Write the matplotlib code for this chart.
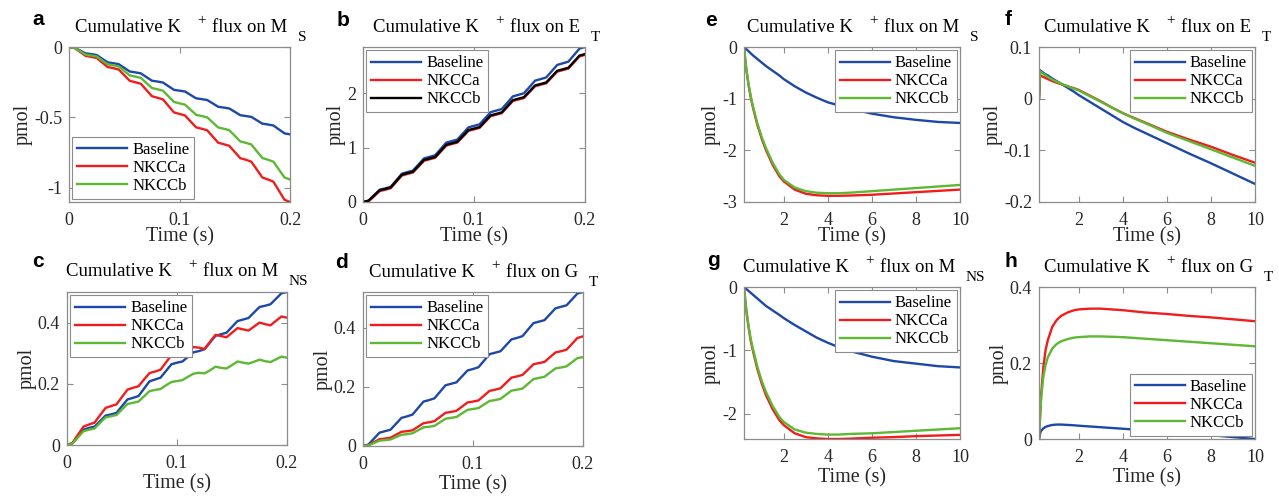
import numpy as np
import matplotlib.pyplot as plt
from matplotlib.transforms import IdentityTransform

plt.rcParams['font.family'] = ['Liberation Serif', 'DejaVu Serif']
plt.rcParams['axes.unicode_minus'] = False

# time grids
t_short = np.linspace(0, 0.2, 41)
t_long = [0.2, 0.25, 0.3, 0.4, 0.5, 0.6, 0.8, 1.0, 1.2, 1.5, 1.8, 2.0, 2.5, 3.0,
          3.5, 4.0, 4.5, 5, 6, 7, 8, 9, 10]

# a: K+ flux on M_S (0-0.2 s)
a_base = [0, -0.005, -0.025, -0.045, -0.05, -0.057, -0.083, -0.109, -0.115, -0.122, -0.148,
          -0.174, -0.18, -0.187, -0.213, -0.239, -0.245, -0.252, -0.278, -0.304, -0.31,
          -0.316, -0.34, -0.364, -0.37, -0.376, -0.4, -0.424, -0.43, -0.436, -0.46, -0.484,
          -0.49, -0.496, -0.52, -0.544, -0.55, -0.557, -0.585, -0.613, -0.62]
a_nkcca = [0, -0.007, -0.035, -0.063, -0.07, -0.078, -0.11, -0.142, -0.15, -0.16, -0.2,
           -0.24, -0.25, -0.261, -0.305, -0.349, -0.36, -0.372, -0.418, -0.464, -0.475,
           -0.486, -0.528, -0.57, -0.58, -0.591, -0.635, -0.679, -0.69, -0.701, -0.745,
           -0.789, -0.8, -0.814, -0.87, -0.926, -0.94, -0.956, -1.02, -1.084, -1.1]
a_nkccb = [0, -0.006, -0.03, -0.054, -0.06, -0.067, -0.095, -0.123, -0.13, -0.138, -0.17,
           -0.202, -0.21, -0.219, -0.255, -0.291, -0.3, -0.31, -0.35, -0.39, -0.4, -0.409,
           -0.445, -0.481, -0.49, -0.499, -0.535, -0.571, -0.58, -0.59, -0.63, -0.67, -0.68,
           -0.692, -0.74, -0.788, -0.8, -0.814, -0.87, -0.926, -0.94]

# b: K+ flux on E_T
b_base = [0, 0.025, 0.125, 0.225, 0.25, 0.28, 0.4, 0.52, 0.55, 0.578, 0.69, 0.802, 0.83,
          0.859, 0.975, 1.091, 1.12, 1.148, 1.26, 1.372, 1.4, 1.428, 1.54, 1.652, 1.68,
          1.709, 1.825, 1.941, 1.97, 1.999, 2.115, 2.231, 2.26, 2.289, 2.405, 2.521, 2.55,
          2.58, 2.7, 2.82, 2.85]
b_nkcca = [0, 0.01, 0.105, 0.2, 0.225, 0.254, 0.37, 0.486, 0.515, 0.542, 0.65, 0.758,
           0.785, 0.813, 0.925, 1.037, 1.065, 1.092, 1.2, 1.308, 1.335, 1.362, 1.47, 1.578,
           1.605, 1.633, 1.745, 1.857, 1.885, 1.912, 2.02, 2.128, 2.155, 2.182, 2.29, 2.398,
           2.425, 2.453, 2.565, 2.677, 2.705]
b_nkccb = [0, 0.024, 0.12, 0.216, 0.24, 0.269, 0.385, 0.501, 0.53, 0.557, 0.665, 0.773,
           0.8, 0.828, 0.94, 1.052, 1.08, 1.107, 1.215, 1.323, 1.35, 1.377, 1.485, 1.593,
           1.62, 1.648, 1.76, 1.872, 1.9, 1.927, 2.035, 2.143, 2.17, 2.197, 2.305, 2.413,
           2.44, 2.468, 2.58, 2.692, 2.72]

# c: K+ flux on M_NS
c_base = [0, 0.006, 0.028, 0.05, 0.056, 0.06, 0.078, 0.096, 0.1, 0.105, 0.127, 0.149,
          0.154, 0.16, 0.184, 0.208, 0.214, 0.22, 0.242, 0.264, 0.269, 0.273, 0.288, 0.303,
          0.307, 0.313, 0.335, 0.357, 0.362, 0.367, 0.386, 0.405, 0.41, 0.415, 0.433, 0.451,
          0.455, 0.46, 0.478, 0.496, 0.5]
c_nkcca = [0, 0.007, 0.034, 0.06, 0.067, 0.073, 0.097, 0.121, 0.127, 0.133, 0.157, 0.181,
           0.187, 0.192, 0.214, 0.235, 0.24, 0.246, 0.27, 0.294, 0.3, 0.296, 0.309, 0.32,
           0.318, 0.314, 0.337, 0.36, 0.356, 0.352, 0.367, 0.382, 0.378, 0.374, 0.387, 0.4,
           0.395, 0.391, 0.406, 0.42, 0.416]
c_nkccb = [0, 0.005, 0.025, 0.045, 0.05, 0.054, 0.072, 0.09, 0.094, 0.098, 0.116, 0.134,
           0.138, 0.142, 0.159, 0.176, 0.18, 0.183, 0.195, 0.206, 0.209, 0.212, 0.223, 0.233,
           0.236, 0.234, 0.244, 0.256, 0.252, 0.25, 0.261, 0.273, 0.269, 0.266, 0.272, 0.279,
           0.274, 0.271, 0.28, 0.289, 0.285]

# d: K+ flux on G_T
d_base = [0, 0.005, 0.025, 0.045, 0.05, 0.055, 0.075, 0.095, 0.1, 0.106, 0.128, 0.15,
          0.155, 0.161, 0.183, 0.205, 0.21, 0.215, 0.235, 0.255, 0.26, 0.266, 0.288, 0.31,
          0.315, 0.32, 0.34, 0.36, 0.365, 0.371, 0.393, 0.415, 0.42, 0.425, 0.445, 0.465,
          0.47, 0.475, 0.495, 0.515, 0.52]
d_nkcca = [0, 0.003, 0.013, 0.023, 0.025, 0.028, 0.038, 0.048, 0.05, 0.053, 0.065, 0.077,
           0.08, 0.084, 0.098, 0.112, 0.115, 0.119, 0.133, 0.147, 0.15, 0.154, 0.17, 0.186,
           0.19, 0.195, 0.213, 0.231, 0.235, 0.24, 0.258, 0.276, 0.28, 0.284, 0.3, 0.316,
           0.32, 0.325, 0.345, 0.365, 0.37]
d_nkccb = [0, 0.002, 0.01, 0.018, 0.02, 0.022, 0.03, 0.038, 0.04, 0.043, 0.053, 0.063,
           0.065, 0.068, 0.08, 0.092, 0.095, 0.098, 0.11, 0.122, 0.125, 0.128, 0.14, 0.152,
           0.155, 0.159, 0.173, 0.187, 0.19, 0.194, 0.21, 0.226, 0.23, 0.234, 0.248, 0.262,
           0.265, 0.269, 0.283, 0.297, 0.3]

# e-h: 0.2-10 s
e_base = [0, -0.02, -0.04, -0.08, -0.12, -0.16, -0.23, -0.3, -0.37, -0.46, -0.55, -0.62,
          -0.76, -0.88, -0.98, -1.07, -1.13, -1.19, -1.29, -1.36, -1.41, -1.45, -1.47]
e_nkcca = [0, -0.22, -0.42, -0.72, -0.96, -1.16, -1.5, -1.77, -2.0, -2.28, -2.5, -2.6,
           -2.76, -2.84, -2.87, -2.88, -2.88, -2.875, -2.86, -2.835, -2.81, -2.785, -2.76]
e_nkccb = [0, -0.21, -0.41, -0.7, -0.94, -1.14, -1.47, -1.74, -1.96, -2.24, -2.46, -2.57,
           -2.72, -2.79, -2.82, -2.83, -2.83, -2.82, -2.79, -2.76, -2.73, -2.7, -2.67]

f_base = [0, 0.055, 0.053, 0.05, 0.047, 0.045, 0.039, 0.034, 0.029, 0.021, 0.013, 0.007,
          -0.006, -0.019, -0.032, -0.045, -0.056, -0.066, -0.086, -0.106, -0.125, -0.145,
          -0.165]
f_nkcca = [0, 0.045, 0.044, 0.042, 0.04, 0.038, 0.034, 0.031, 0.028, 0.024, 0.02, 0.017,
           0.006, -0.005, -0.017, -0.028, -0.037, -0.046, -0.064, -0.079, -0.093, -0.109,
           -0.124]
f_nkccb = [0, 0.053, 0.051, 0.048, 0.045, 0.042, 0.037, 0.033, 0.029, 0.024, 0.019, 0.016,
           0.005, -0.006, -0.017, -0.028, -0.038, -0.047, -0.066, -0.082, -0.098, -0.114,
           -0.13]

g_base = [0, -0.015, -0.03, -0.06, -0.09, -0.12, -0.18, -0.24, -0.3, -0.37, -0.44, -0.49,
          -0.6, -0.7, -0.8, -0.88, -0.95, -1.01, -1.1, -1.17, -1.21, -1.25, -1.27]
g_nkcca = [0, -0.19, -0.36, -0.62, -0.84, -1.0, -1.29, -1.52, -1.71, -1.93, -2.1, -2.18,
           -2.31, -2.37, -2.39, -2.4, -2.4, -2.395, -2.38, -2.37, -2.355, -2.345, -2.335]
g_nkccb = [0, -0.18, -0.35, -0.6, -0.81, -0.97, -1.25, -1.48, -1.66, -1.88, -2.05, -2.13,
           -2.25, -2.3, -2.32, -2.33, -2.33, -2.32, -2.31, -2.29, -2.27, -2.25, -2.23]

h_base = [0, 0.015, 0.022, 0.028, 0.032, 0.034, 0.037, 0.038, 0.038, 0.037, 0.036, 0.035,
          0.033, 0.031, 0.029, 0.027, 0.025, 0.023, 0.019, 0.015, 0.01, 0.005, 0.0]
h_nkcca = [0, 0.06, 0.12, 0.19, 0.235, 0.26, 0.295, 0.313, 0.324, 0.333, 0.339, 0.341,
           0.343, 0.343, 0.341, 0.339, 0.336, 0.333, 0.329, 0.324, 0.32, 0.315, 0.31]
h_nkccb = [0, 0.06, 0.11, 0.165, 0.195, 0.215, 0.238, 0.25, 0.257, 0.263, 0.267, 0.268,
           0.27, 0.27, 0.269, 0.268, 0.266, 0.264, 0.26, 0.256, 0.252, 0.248, 0.244]

BLUE = '#1c48a8'
RED = '#f01d1d'
GREEN = '#5db833'
GRAY = '#8c8c8c'

W, H = 1279, 500
fig = plt.figure(figsize=(W / 100, H / 100), dpi=100)
ident = IdentityTransform()


def px_axes(left, top, right, bottom):
    return fig.add_axes([left / W, 1 - bottom / H, (right - left) / W, (bottom - top) / H])


def put_title(letter, lx, lby, tx, tby, body, sub):
    fig.text(lx, H - lby, letter, transform=ident, family='Liberation Sans',
             fontweight='bold', fontsize=15, va='baseline')
    r = fig.canvas.get_renderer()
    t1 = fig.text(tx, H - tby, 'Cumulative K', transform=ident, fontsize=13.5, va='baseline')
    e1 = t1.get_window_extent(r)
    t2 = fig.text(e1.x1 + 16, H - tby + 8, '+', transform=ident, fontsize=11, va='baseline')
    e2 = t2.get_window_extent(r)
    t3 = fig.text(e2.x1 + 7, H - tby, 'flux on ' + body, transform=ident, fontsize=13.5,
                  va='baseline')
    e3 = t3.get_window_extent(r)
    fig.text(e3.x1 + 10, H - tby - 9, sub, transform=ident, fontsize=11, va='baseline')


def style(ax, xlim, ylim, xticks, yticks, xlabels, ylabels, xpad):
    ax.set_xlim(xlim)
    ax.set_ylim(ylim)
    ax.set_xticks(xticks)
    ax.set_xticklabels(xlabels)
    ax.set_yticks(yticks)
    ax.set_yticklabels(ylabels)
    for s in ax.spines.values():
        s.set_color(GRAY)
        s.set_linewidth(0.9)
    ax.tick_params(direction='in', top=True, right=True, length=4, width=0.8,
                   color=GRAY, labelsize=13, labelcolor='#262626', pad=5)
    ax.tick_params(axis='x', pad=7)
    ax.set_xlabel('Time (s)', fontsize=14.5, labelpad=xpad, color='#262626')
    ax.set_ylabel('pmol', fontsize=14.5, labelpad=1, color='#262626')


def draw(ax, t, ys, colors, loc):
    for y, c, lab in zip(ys, colors, ['Baseline', 'NKCCa', 'NKCCb']):
        ax.plot(t, y, color=c, lw=1.7, label=lab)
    leg = ax.legend(loc=loc, fontsize=12, frameon=True, fancybox=False, framealpha=1,
                    edgecolor=GRAY, handlelength=3.0, handletextpad=0.3,
                    labelspacing=0.12, borderpad=0.3, borderaxespad=0.2)
    leg.get_frame().set_linewidth(0.8)


short_xt = [0, 0.1, 0.2]
short_xl = ['0', '0.1', '0.2']
long_xt = [2, 4, 6, 8, 10]
long_xl = ['2', '4', '6', '8', '10']

# a
ax = px_axes(69, 47, 290, 202)
draw(ax, t_short, [a_base, a_nkcca, a_nkccb], [BLUE, RED, GREEN], 'lower left')
style(ax, (0, 0.2), (-1.1, 0), short_xt, [-1, -0.5, 0], short_xl, ['-1', '-0.5', '0'], -1)
put_title('a', 32, 25, 75, 32, 'M', 'S')

# b
ax = px_axes(363, 47, 585, 202)
draw(ax, t_short, [b_base, b_nkcca, b_nkccb], [BLUE, RED, 'black'], 'upper left')
style(ax, (0, 0.2), (0, 2.85), short_xt, [0, 1, 2], short_xl, ['0', '1', '2'], -1)
put_title('b', 337, 26, 373, 32, 'E', 'T')

# c
ax = px_axes(67, 292, 287, 445)
draw(ax, t_short, [c_base, c_nkcca, c_nkccb], [BLUE, RED, GREEN], 'upper left')
style(ax, (0, 0.2), (0, 0.5), short_xt, [0, 0.2, 0.4], short_xl, ['0', '0.2', '0.4'], 2)
put_title('c', 32, 267, 66, 276, 'M', 'NS')

# d
ax = px_axes(363, 292, 583, 446)
draw(ax, t_short, [d_base, d_nkcca, d_nkccb], [BLUE, RED, GREEN], 'upper left')
style(ax, (0, 0.2), (0, 0.52), short_xt, [0, 0.2, 0.4], short_xl, ['0', '0.2', '0.4'], 2)
put_title('d', 335, 268, 369, 277, 'G', 'T')

# e
ax = px_axes(744, 47, 960, 202)
draw(ax, t_long, [e_base, e_nkcca, e_nkccb], [BLUE, RED, GREEN], 'upper right')
style(ax, (0.2, 10), (-3, 0), long_xt, [-3, -2, -1, 0], long_xl, ['-3', '-2', '-1', '0'], -1)
put_title('e', 705, 26, 747, 32, 'M', 'S')

# f
ax = px_axes(1039, 47, 1255, 202)
draw(ax, t_long, [f_base, f_nkcca, f_nkccb], [BLUE, RED, GREEN], 'upper right')
style(ax, (0.2, 10), (-0.2, 0.1), long_xt, [-0.2, -0.1, 0, 0.1], long_xl,
      ['-0.2', '-0.1', '0', '0.1'], -1)
put_title('f', 1005, 25, 1044, 32, 'E', 'T')

# g
ax = px_axes(744, 287, 960, 439)
draw(ax, t_long, [g_base, g_nkcca, g_nkccb], [BLUE, RED, GREEN], 'upper right')
style(ax, (0.2, 10), (-2.4, 0), long_xt, [-2, -1, 0], long_xl, ['-2', '-1', '0'], 2)
put_title('g', 707, 266, 743, 272, 'M', 'NS')

# h
ax = px_axes(1039, 287, 1255, 439)
draw(ax, t_long, [h_base, h_nkcca, h_nkccb], [BLUE, RED, GREEN], 'lower right')
style(ax, (0.2, 10), (0, 0.4), long_xt, [0, 0.2, 0.4], long_xl, ['0', '0.2', '0.4'], 2)
put_title('h', 1005, 267, 1044, 272, 'G', 'T')

fig.savefig('out.png', dpi=100)
